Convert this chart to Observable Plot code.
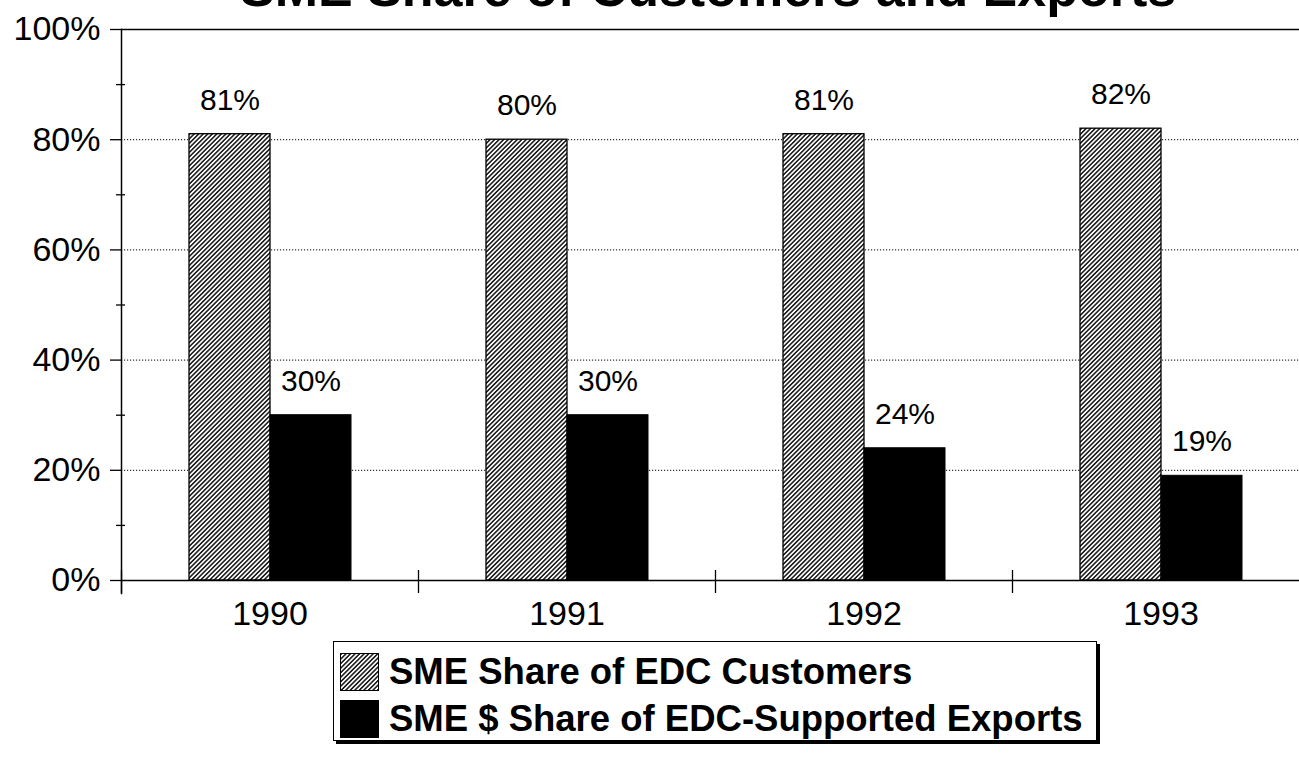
<!DOCTYPE html>
<html>
<head>
<meta charset="utf-8">
<script src="https://cdn.jsdelivr.net/npm/d3@7"></script>
<script src="https://cdn.jsdelivr.net/npm/@observablehq/plot@0.6"></script>
<style>
html, body { margin: 0; padding: 0; background: #fff; overflow: hidden; width: 1299px; height: 760px; }
#wrap { position: relative; width: 1299px; height: 760px; overflow: hidden; font-family: "Liberation Sans", Arial, sans-serif; color: #000; }
#title { position: absolute; left: 240px; top: -38px; font-weight: bold; font-size: 52px; line-height: 52px; white-space: nowrap; }
#chart { position: absolute; left: 0; top: 0; width: 1310px; }
#chart svg { max-width: none !important; }
#legend { position: absolute; left: 333px; top: 641px; width: 764px; height: 100px; box-sizing: border-box; border: 1.5px solid #000; box-shadow: 3px 3px 0 #000; background: #fff; }
.row { position: absolute; left: 6px; height: 38px; display: flex; align-items: center; font-weight: bold; font-size: 36.5px; white-space: nowrap; }
.row svg { margin-right: 10px; flex: none; }
</style>
</head>
<body>
<div id="wrap">
  <div id="chart"></div>
  <div id="title">SME Share of Customers and Exports</div>
  <div id="legend"></div>
</div>
<script>
// ---- data ----
const years = ["1990", "1991", "1992", "1993"];
const seriesNames = ["SME Share of EDC Customers", "SME $ Share of EDC-Supported Exports"];
const customersShare = [81, 80, 81, 82];
const exportsShare = [30, 30, 24, 19];
const yTicks = [0, 20, 40, 60, 80, 100];
const yMinorTicks = [10, 30, 50, 70, 90];
const gridTicks = [20, 40, 60, 80];

const customersData = years.map((y, i) => ({year: y, series: seriesNames[0], value: customersShare[i]}));
const exportsData = years.map((y, i) => ({year: y, series: seriesNames[1], value: exportsShare[i]}));
const allData = customersData.concat(exportsData);

// ---- layout ----
const W = 1310, H = 640;
const mL = 121, mR = 1, mT = 29, mB = 60;
const step = (W - mL - mR) / years.length;

const patternMarkup = (id) => `<pattern id="${id}" patternUnits="userSpaceOnUse" width="3.2" height="3.2" patternTransform="rotate(45)"><rect width="3.2" height="3.2" fill="#fff"/><line x1="1.6" y1="-1" x2="1.6" y2="4.2" stroke="#000" stroke-width="1.4"/></pattern>`;

const defsMark = () => {
  const defs = document.createElementNS("http://www.w3.org/2000/svg", "defs");
  defs.innerHTML = patternMarkup("hatch");
  return defs;
};

const chart = Plot.plot({
  width: W,
  height: H,
  marginLeft: mL,
  marginRight: mR,
  marginTop: mT,
  marginBottom: mB,
  style: {fontFamily: "'Liberation Sans', Arial, sans-serif", color: "#000", background: "transparent", overflow: "visible", maxWidth: "none"},
  fx: {domain: years, padding: 0, axis: null, label: null},
  x: {domain: seriesNames, paddingInner: 0, paddingOuter: 0.82, axis: null, label: null},
  y: {domain: [0, 100], axis: null, label: null},
  marks: [
    defsMark,
    Plot.ruleY(gridTicks, {stroke: "#000", strokeWidth: 1, strokeDasharray: "1.2,1.8"}),
    Plot.ruleY([100], {stroke: "#000", strokeWidth: 1.5}),
    Plot.barY(customersData, {fx: "year", x: "series", y: "value", fill: "url(#hatch)", stroke: "#000", strokeWidth: 1.3}),
    Plot.barY(exportsData, {fx: "year", x: "series", y: "value", fill: "#000", stroke: "#000", strokeWidth: 1}),
    Plot.ruleY([0], {stroke: "#000", strokeWidth: 1.5}),
    Plot.text(allData, {fx: "year", x: "series", y: "value", text: d => d.value + "%", dy: -34, fontSize: 30, fill: "#000"}),
    Plot.axisY({ticks: yTicks, tickFormat: d => d + "%", tickSize: 11, tickPadding: 10, fontSize: 34, strokeWidth: 1.3, label: null}),
    Plot.axisY({ticks: yMinorTicks, tickFormat: () => "", tickSize: 9, dx: 4, strokeWidth: 1.3, label: null}),
    Plot.axisFx({anchor: "bottom", tickSize: 0, tickPadding: 20, fontSize: 34, label: null}),
    Plot.axisFx({anchor: "bottom", tickSize: 23, dy: -10, dx: -step / 2, tickFormat: () => "", strokeWidth: 1.3, label: null}),
    Plot.frame({anchor: "left", facet: "super", insetBottom: -13, strokeWidth: 1.5})
  ]
});
document.getElementById("chart").appendChild(chart);

// ---- legend ----
const legend = document.getElementById("legend");
seriesNames.forEach((name, i) => {
  const row = document.createElement("div");
  row.className = "row";
  row.style.top = (i === 0 ? 11 : 58) + "px";
  const fill = i === 0 ? "url(#hatchLegend)" : "#000";
  row.innerHTML = `<svg width="39" height="38"><defs>${patternMarkup("hatchLegend")}</defs><rect x="0.5" y="0.5" width="38" height="37" fill="${fill}" stroke="#000" stroke-width="1"/></svg><span>${name}</span>`;
  legend.appendChild(row);
});
</script>
</body>
</html>
